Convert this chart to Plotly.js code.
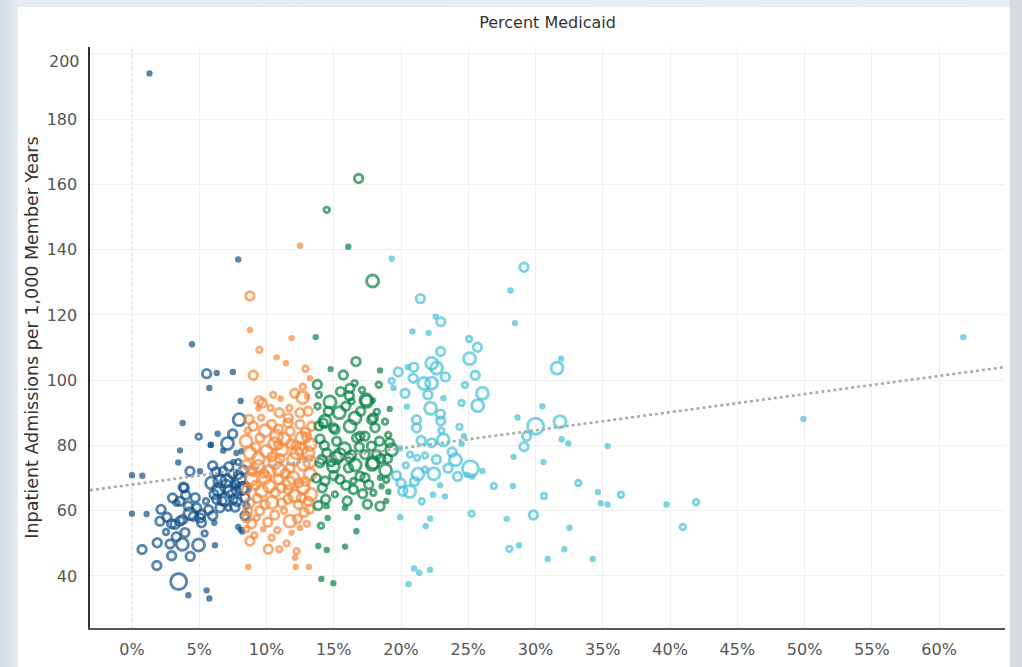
<!DOCTYPE html>
<html><head><meta charset="utf-8">
<script src="https://cdn.plot.ly/plotly-3.0.1.min.js"></script>
<style>
html,body{margin:0;padding:0;width:1022px;height:667px;overflow:hidden;background:linear-gradient(90deg,#d3dde8 0px,#e6ecf2 18px,#e9eef3 100%);}
#frame{position:absolute;left:18px;top:7px;width:992px;height:660px;background:#fff;}
#chart{width:992px;height:660px;}
#rstrip{position:absolute;left:1010px;top:0;width:12px;height:667px;background:#d7dade;}
</style></head><body>
<div id="frame"><div id="chart"></div></div>
<div id="rstrip"></div>
<script>
// ---- data (x: percent Medicaid, y: admissions per 1,000, s: relative size class 1..5) ----
const blueX = [1.3,7.9,4.46,5.55,6.3,7.5,5.75,8.08,7.97,3.77,4.96,6.37,7.49,5.85,3.57,7.1,3.44,0.0,0.77,0.0,1.09,4.31,5.06,3.81,3.02,3.57,2.16,2.08,2.95,2.53,4.31,4.81,5.5,5.06,3.57,3.94,1.88,0.75,2.83,3.75,4.95,2.95,4.33,1.85,3.47,5.55,4.19,5.75,6.17,6.12,5.87,6.78,7.77,7.53,7.9,6.25,6.79,5.92,6.54,7.04,7.66,8.15,6.42,7.29,7.78,6.29,6.91,7.53,6.54,7.16,7.66,3.89,3.31,4.19,5.17,4.56,3.77,3.2,5.17,7.9,8.1,8.2,8.35,7.9,8.15,8.3,
  6.0,7.2,8.0,6.1,7.0,7.5,6.7,7.8,8.4,5.7,6.0,4.7,4.0,2.6,3.3,5.4,8.4,8.5];
const blueY = [194,137,111,102,102.2,102.5,97.6,93.6,87.9,86.9,82.7,83.6,83.5,80.1,78.5,80.6,74.8,70.9,70.7,59.1,59.0,72.1,72.1,67.2,63.9,62.9,60.4,56.8,56.0,53.5,59.1,60.9,62.9,57.8,56.8,53.3,50.2,48.1,49.8,49.7,49.5,46.2,46.0,43.2,38.3,35.6,34.1,33.1,49.4,56.3,80.2,78.4,77.7,74.9,74.9,71.9,72.1,68.5,69.1,69.1,68.0,66.8,66.5,66.0,66.0,63.5,63.5,63.5,60.9,60.9,61.1,67.0,62.4,61.4,58.9,58.3,57.3,55.8,56.3,55.0,54.2,53.6,67.0,71.1,78.2,72.5,
  73.8,73.5,69.5,65.0,67.5,71.2,63.0,62.8,64.0,60.3,58.5,64.0,64.8,58.0,52.0,53.0,58.5,61.5];
const blueS = [1,1,1,3,1,1,1,1,4,1,2,1,3,1,1,4,1,1,1,1,1,3,1,3,3,3,3,3,3,2,4,3,2,3,3,3,3,3,3,4,4,3,3,3,5,1,1,1,1,1,1,1,1,1,2,3,3,4,4,4,3,4,4,4,3,3,4,3,3,2,3,3,2,3,3,3,3,3,3,1,1,1,4,3,1,3,
  3,3,4,3,4,3,3,3,3,3,3,3,3,3,3,2,3,2];

const orangeX = [8.77,8.77,11.87,9.47,10.76,11.45,9.02,13.23,9.47,9.4,11.05,12.69,12.7,10.95,11.7,12.49,13.1,11.62,9.02,10.38,12.49,8.48,9.52,10.76,11.75,12.61,13.23,8.77,10.0,11.13,12.24,13.1,8.52,9.39,10.63,11.75,12.74,8.9,9.89,10.88,11.99,13.23,8.52,9.64,10.63,11.62,12.74,8.77,9.89,11.13,12.37,13.1,8.52,9.27,11.75,8.52,8.77,9.76,10.38,11.87,12.49,10.14,10.95,12.24,12.12,8.65,12.17,13.16,12.49,9.2,10.4,11.8,12.9,9.6,10.2,11.4,12.4,9.3,10.6,11.3,12.8,13.3,9.0,11.6,13.36,10.3,12.0,10.9,8.6,13.2,
  8.7,9.9,10.9,11.3,12.2,13.0,9.4,10.6,11.0,12.6,8.9,9.8,10.9,11.7,12.9,9.2,10.2,11.1,12.1,13.2,9.5,10.4,11.6,12.6,8.9,10.1,12.3,13.0,10.8,11.5,9.1,8.6,9.7,10.5,12.1,13.0,12.9];
const orangeY = [125.8,115.4,112.9,109.3,107.0,105.2,101.5,100.6,93.7,91.3,94.3,94.7,98.0,90.0,91.5,90.0,90.5,88.4,85.9,86.4,86.4,81.3,82.3,82.8,84.3,82.3,80.3,77.7,78.2,78.7,77.7,77.7,74.2,73.6,74.7,73.1,74.2,69.6,70.1,69.6,70.1,71.1,66.5,66.0,65.5,66.5,67.0,62.4,61.9,62.4,61.9,62.9,57.8,57.8,56.8,54.3,50.7,54.3,51.7,53.3,54.8,48.2,48.2,47.6,45.6,42.8,42.8,42.8,141.2,79.5,76.5,80.5,84.0,88.5,72.0,71.5,68.5,63.8,58.7,60.0,59.5,65.0,72.0,86.9,85.9,91.5,75.8,80.2,84.5,75.0,
  88.0,84.5,85.0,82.0,80.0,82.5,76.0,80.5,76.0,79.0,72.5,71.5,72.8,68.5,69.0,67.8,67.5,67.0,64.5,60.5,60.0,62.5,63.5,64.0,56.0,56.5,57.5,56.0,54.0,50.0,52.5,60.0,93.0,95.5,96.0,95.0,103.5];
const orangeS = [3,1,1,2,1,1,3,1,3,1,1,4,2,3,2,3,3,3,3,3,3,4,3,4,3,4,4,4,4,4,4,4,3,4,4,3,4,4,4,3,4,4,3,4,3,3,4,3,3,3,3,3,3,2,4,2,3,1,2,1,1,3,2,2,1,1,1,1,1,3,3,3,3,2,4,3,3,3,3,2,3,4,3,3,3,2,4,3,2,4,
  3,4,3,4,3,3,4,4,3,4,3,3,4,4,3,3,4,3,4,3,3,4,3,3,3,3,3,2,2,2,2,3,3,2,3,1,2];

const greenX = [16.85,14.48,16.08,17.89,13.66,14.77,16.65,18.44,13.78,15.71,16.55,18.35,16.16,17.4,17.9,19.16,14.35,15.41,16.58,17.82,18.81,14.97,16.21,18.07,19.05,13.98,15.21,16.7,17.32,18.4,19.15,14.48,15.46,16.21,17.32,18.19,13.98,14.97,16.09,17.85,18.85,14.35,15.46,16.46,17.32,18.44,14.15,15.09,16.46,17.15,17.94,19.06,18.44,13.85,15.84,14.55,16.76,14.05,16.68,13.85,14.48,15.84,14.08,14.97,14.72,16.33,17.45,17.94,19.3,14.22,15.09,16.95,16.95,14.48,18.56,15.2,16.33,17.94,13.8,14.1,15.5,13.9,
  14.6,15.9,17.0,18.2,14.3,15.8,16.9,17.8,14.8,16.6,18.5,15.0,15.9,17.6,18.9,14.4,16.0,17.5,18.9,13.7,19.0,16.2,17.1,13.9];
const greenY = [161.8,152.2,140.9,130.4,113.2,103.4,105.7,103.0,98.7,101.6,99.1,98.6,95.2,94.0,93.8,91.2,87.4,90.0,88.4,87.9,87.3,85.4,85.9,85.4,83.2,82.0,81.3,82.3,82.8,81.3,80.8,77.7,77.2,76.2,77.2,77.2,74.7,73.6,73.1,74.2,72.4,69.1,69.6,69.1,70.1,70.1,67.0,65.0,66.5,65.2,65.5,65.8,61.4,61.6,60.9,57.8,58.0,55.4,53.7,49.2,48.0,49.0,39.1,37.8,93.3,93.5,93.5,88.4,78.7,86.9,84.9,82.8,70.6,61.4,67.5,76.2,77.2,74.7,92.0,75.7,96.5,86.0,
  90.5,92.0,90.5,90.3,80.0,79.0,79.5,79.8,75.0,74.0,76.0,70.8,67.8,68.0,69.5,63.5,63.0,62.0,63.0,70.0,76.0,97.5,97.0,95.5];
const greenS = [3,2,1,4,1,1,3,1,3,3,2,2,3,4,1,1,4,4,4,3,2,3,4,3,2,3,3,3,3,3,3,3,4,3,3,3,3,4,3,4,4,3,3,2,3,1,3,2,3,3,2,1,3,3,1,1,1,2,1,1,1,1,1,1,4,2,4,3,4,3,3,3,3,1,1,4,3,4,2,3,3,3,
  3,3,3,2,3,4,3,3,3,4,3,3,3,3,2,3,3,3,1,3,3,3,2,2];

const cyanX = [19.31,29.14,21.44,28.14,28.48,22.58,22.96,20.85,22.05,25.06,25.68,22.95,25.1,20.5,20.95,22.28,22.65,20.9,21.7,22.28,19.3,19.44,25.52,24.75,31.6,31.9,26.05,25.7,23.15,22.2,22.93,22.95,20.43,21.15,21.15,24.35,30.5,28.66,30.0,31.82,29.34,29.14,31.94,32.44,35.36,22.28,23.14,24.68,24.5,20.67,21.19,21.78,22.63,24.05,20.36,19.66,21.25,22.44,21.78,25.16,26.05,24.9,25.3,22.9,20.13,20.65,21.54,22.38,23.27,26.9,28.36,30.59,28.33,33.18,30.63,34.63,34.84,35.36,36.35,39.74,41.94,40.95,19.93,22.16,21.84,25.25,27.86,29.84,32.52,28.05,28.77,30.91,32.14,34.25,20.97,21.36,22.16,20.56,49.92,61.8,19.93,
  20.0,21.0,23.5,24.2,23.8,21.5,22.0,23.3,20.3,19.8,24.5,23.0];
const cyanY = [137.2,134.6,125.0,127.5,117.5,119.5,117.9,114.9,114.5,112.6,110.1,108.8,106.6,104.0,104.0,105.2,103.7,100.6,99.0,99.1,99.8,97.6,101.5,98.5,103.7,106.6,96.0,92.2,94.5,91.4,89.6,87.5,91.9,87.9,85.4,85.7,92.0,88.6,85.9,87.3,82.8,79.6,81.9,80.6,79.8,80.8,81.7,82.8,80.5,77.2,76.2,76.9,75.7,75.6,73.9,70.8,71.2,71.3,72.6,72.9,72.2,71.0,70.5,67.8,66.0,65.9,62.9,64.9,64.4,67.6,76.5,74.9,67.6,68.5,64.5,65.7,62.3,61.9,64.9,61.9,62.6,55.0,58.0,57.6,55.3,59.1,57.5,58.7,54.8,48.3,49.4,45.2,48.2,45.2,42.3,41.0,41.9,37.5,88.1,113.2,79.1,
  68.5,69.0,73.0,70.5,78.0,81.5,95.5,101.0,96.0,102.5,93.0,84.5];
const cyanS = [1,3,3,1,1,1,3,1,1,2,3,3,4,1,3,4,4,3,4,4,2,1,3,2,4,1,4,4,1,4,3,3,1,3,3,2,1,1,5,4,3,3,1,1,1,3,4,1,1,2,2,2,3,4,2,3,4,4,2,5,1,1,1,1,3,4,2,1,1,2,1,1,1,2,2,1,1,1,2,1,2,2,1,1,1,2,1,3,1,2,1,1,1,1,1,1,1,1,1,1,1,
  3,3,3,3,3,3,3,3,3,3,2,2];

// trend line (linear fit)
const trendIntercept = 68.0;
const trendSlope = 0.555;
const xRange = [-3.12, 64.9];
const yRange = [24.06, 202.1];
const yTickVals = [40, 60, 80, 100, 120, 140, 160, 180];
const topTick = 200;
const xTitle = 'Percent Medicaid';
const yTitle = 'Inpatient Admissions per 1,000 Member Years';

// ---- styling ----
const colors = {blue:'#14528b', orange:'#f7893a', green:'#078243', cyan:'#46c1d9'};
const sizeMap = [0, 3.5, 5.5, 8.5, 12, 16];
function mk(xs, ys, ss, color, name){
  return {
    type:'scatter', mode:'markers', x:xs, y:ys, name:name, hoverinfo:'x+y',
    marker:{
      color:color,
      size:ss.map(s=>sizeMap[s]),
      symbol:ss.map(s=> s===1 ? 'circle' : 'circle-open'),
      line:{color:color, width:2.9}
    }
  };
}
const traces = [
  mk(blueX, blueY, blueS, colors.blue, 'Q1'),
  mk(orangeX, orangeY, orangeS, colors.orange, 'Q2'),
  mk(greenX, greenY, greenS, colors.green, 'Q3'),
  mk(cyanX, cyanY, cyanS, colors.cyan, 'Q4'),
  {type:'scatter', mode:'lines', x:xRange, y:xRange.map(v=>trendIntercept+trendSlope*v),
   line:{color:'#aaaaaa', width:2.6, dash:'dot'}, hoverinfo:'skip', name:'Trend'}
];
const fam = '"DejaVu Sans", "Liberation Sans", Arial, sans-serif';
const tickFont = {family:fam, size:16, color:'#555'};
const layout = {
  width:992, height:660,
  margin:{l:72, r:5, t:40, b:39},
  paper_bgcolor:'#ffffff', plot_bgcolor:'#ffffff',
  showlegend:false,
  title:{text:xTitle, x:0.5, xref:'paper', y:0.977, yref:'container', yanchor:'middle',
         font:{family:fam, size:16, color:'#333'}},
  xaxis:{range:xRange, tick0:0, dtick:5, ticksuffix:'%', showgrid:true, gridcolor:'#f0f0f0', gridwidth:1,
         zeroline:false, showline:true, linecolor:'#555', linewidth:1.6, ticks:'', tickfont:tickFont,
         ticklabelstandoff:6},
  yaxis:{range:yRange, tickmode:'array', tickvals:yTickVals, showgrid:true, gridcolor:'#f0f0f0', gridwidth:1,
         zeroline:false, showline:true, linecolor:'#333', linewidth:1.6, ticks:'', tickfont:tickFont,
         ticklabelstandoff:8,
         title:{text:yTitle, standoff:3, font:{family:fam, size:17.5, color:'#333'}}},
  shapes:[
    {type:'line', xref:'x', yref:'paper', x0:0, x1:0, y0:0, y1:1, layer:'below',
     line:{color:'#c8c8c8', width:1, dash:'dot'}},
    {type:'line', xref:'paper', yref:'y', x0:0, x1:1, y0:topTick, y1:topTick, layer:'below',
     line:{color:'#f0f0f0', width:1}}
  ],
  annotations:[{text:String(topTick), xref:'paper', yref:'y', x:0, y:topTick, xanchor:'right', yanchor:'middle',
    xshift:-8, yshift:-8, showarrow:false, font:tickFont}]
};
Plotly.newPlot('chart', traces, layout, {displayModeBar:false, staticPlot:true});
</script>
</body></html>
